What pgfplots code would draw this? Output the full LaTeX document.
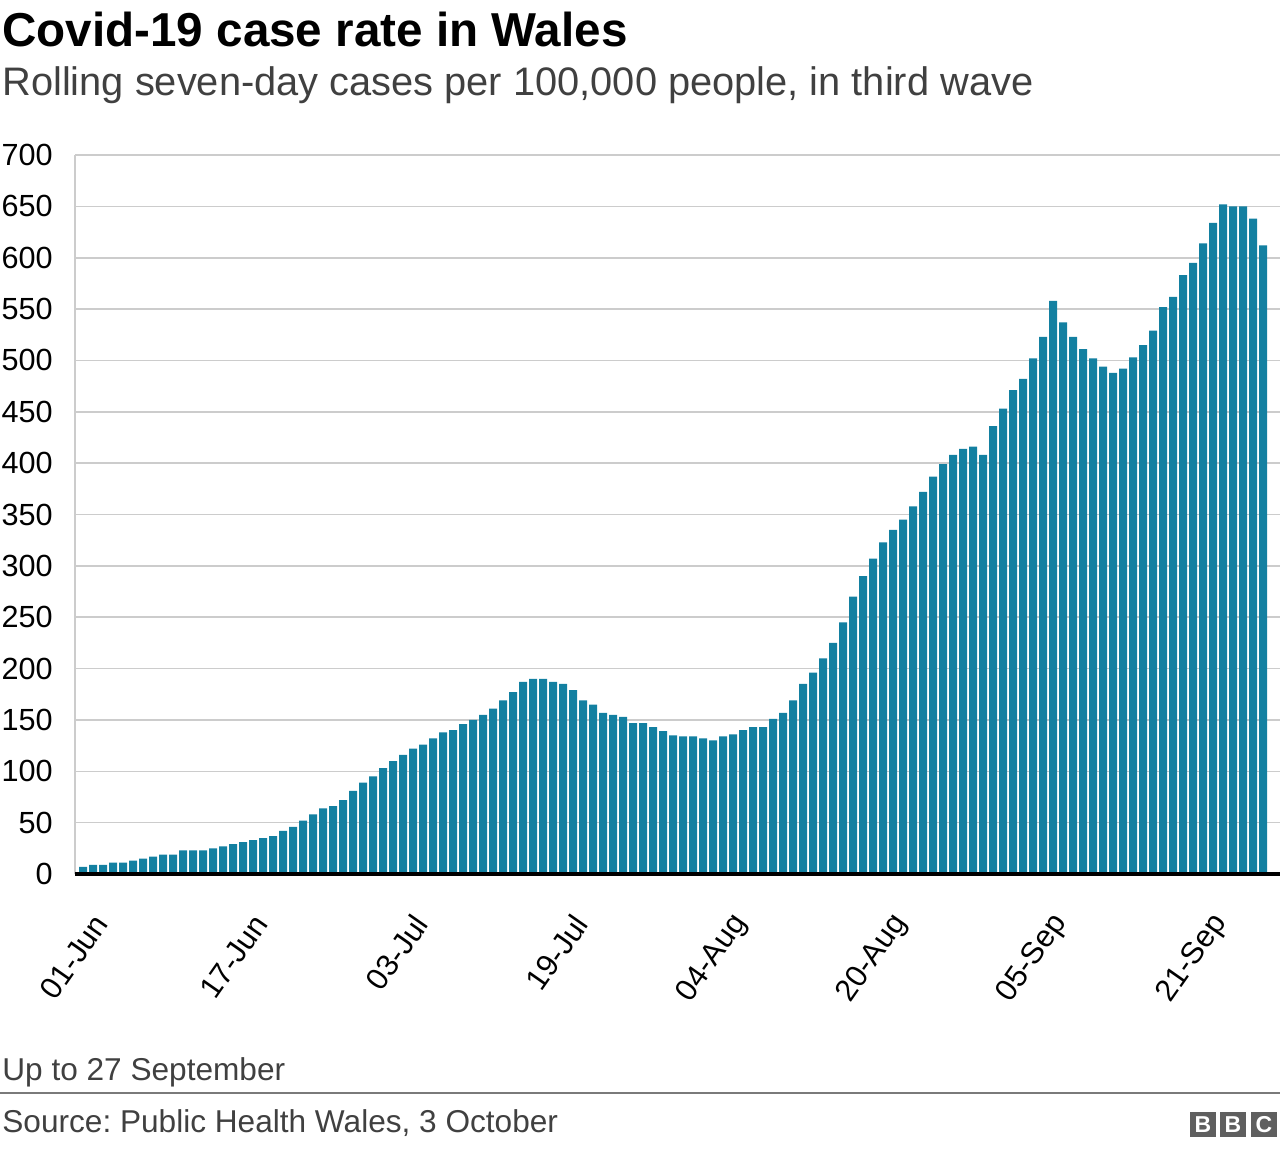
\documentclass[border=0pt]{standalone}
\usepackage{pgfplots}
\pgfplotsset{compat=1.18}
\usepackage{fontspec}
\setmainfont{Liberation Sans}
\frenchspacing
\definecolor{bbc}{HTML}{1380A1}
\definecolor{gridgray}{HTML}{CCCCCC}
\definecolor{subgray}{HTML}{404040}
\definecolor{logogray}{HTML}{5F5F5F}
\definecolor{rulegray}{HTML}{7A7A7A}
\begin{document}
\begin{tikzpicture}
\useasboundingbox (0,0) rectangle (640pt,-574pt);
\node[anchor=base west, inner sep=0, font=\fontsize{23.8}{28}\selectfont\bfseries] at (1pt,-23pt) {Covid-19 case rate in Wales};
\node[anchor=base west, inner sep=0, text=subgray, font=\fontsize{19.9}{24}\selectfont] at (1pt,-47.7pt) {Rolling seven-day cases per 100,000 people, in third wave};
\begin{axis}[
  at={(37.5pt,-437pt)}, anchor=south west,
  scale only axis, width=602.5pt, height=359.5pt,
  xmin=-0.8, xmax=119.7, ymin=0, ymax=700,
  enlargelimits=false, clip=false,
  axis line style={draw=none},
  major tick length=0pt,
  ytick={0,50,...,700},
  xtick={0,16,32,48,64,80,96,112},
  xticklabels={01-Jun,17-Jun,03-Jul,19-Jul,04-Aug,20-Aug,05-Sep,21-Sep},
  ymajorgrids, grid style={gridgray, line width=0.8pt},
  /pgf/number format/assume math mode=true,
  /pgf/number format/1000 sep={},
  yticklabel style={font=\fontsize{15.3}{16}\selectfont, anchor=east, inner sep=0pt, xshift=-11pt, text=black},
  xticklabel style={font=\fontsize{15.3}{16}\selectfont, inner sep=0pt, xshift=9pt, yshift=-22pt, rotate=55, anchor=east, text=black},
  ybar, bar width=4pt,
]
\addplot[fill=bbc, draw=none] coordinates {
(0,7) (1,9) (2,9) (3,11) (4,11) (5,13) (6,15) (7,17) (8,19) (9,19)
(10,23) (11,23) (12,23) (13,25) (14,27) (15,29) (16,31) (17,33) (18,35) (19,37)
(20,42) (21,46) (22,52) (23,58) (24,64) (25,66) (26,72) (27,81) (28,89) (29,95)
(30,103) (31,110) (32,116) (33,122) (34,126) (35,132) (36,138) (37,140) (38,146) (39,150)
(40,155) (41,161) (42,169) (43,177) (44,187) (45,190) (46,190) (47,187) (48,185) (49,179)
(50,169) (51,165) (52,157) (53,155) (54,153) (55,147) (56,147) (57,143) (58,139) (59,135)
(60,134) (61,134) (62,132) (63,130) (64,134) (65,136) (66,140) (67,143) (68,143) (69,151)
(70,157) (71,169) (72,185) (73,196) (74,210) (75,225) (76,245) (77,270) (78,290) (79,307)
(80,323) (81,335) (82,345) (83,358) (84,372) (85,387) (86,399) (87,408) (88,414) (89,416)
(90,408) (91,436) (92,453) (93,471) (94,482) (95,502) (96,523) (97,558) (98,537) (99,523)
(100,511) (101,502) (102,494) (103,488) (104,492) (105,503) (106,515) (107,529) (108,552) (109,562)
(110,583) (111,595) (112,614) (113,634) (114,652) (115,650) (116,650) (117,638) (118,612)
};
\draw[gridgray, line width=0.8pt] (rel axis cs:0,0) -- (rel axis cs:0,1);
\draw[black, line width=1.75pt] (rel axis cs:0,0) -- (rel axis cs:1,0);
\end{axis}
\node[anchor=base west, inner sep=0, text=subgray, font=\fontsize{15.8}{18}\selectfont] at (1pt,-540pt) {Up to 27 September};
\draw[rulegray, line width=0.75pt] (0,-546.5pt) -- (640pt,-546.5pt);
\node[anchor=base west, inner sep=0, text=subgray, font=\fontsize{15.8}{18}\selectfont] at (1pt,-566pt) {Source: Public Health Wales, 3 October};
\foreach \bx/\ch in {595/B,610/B,625.5/C} {
  \fill[logogray] (\bx pt,-556pt) rectangle ++(13pt,-12.5pt);
  \node[text=white, inner sep=0, font=\fontsize{11.5}{12}\selectfont\bfseries] at (\bx pt+6.5pt,-562.25pt) {\ch};
}
\end{tikzpicture}
\end{document}
